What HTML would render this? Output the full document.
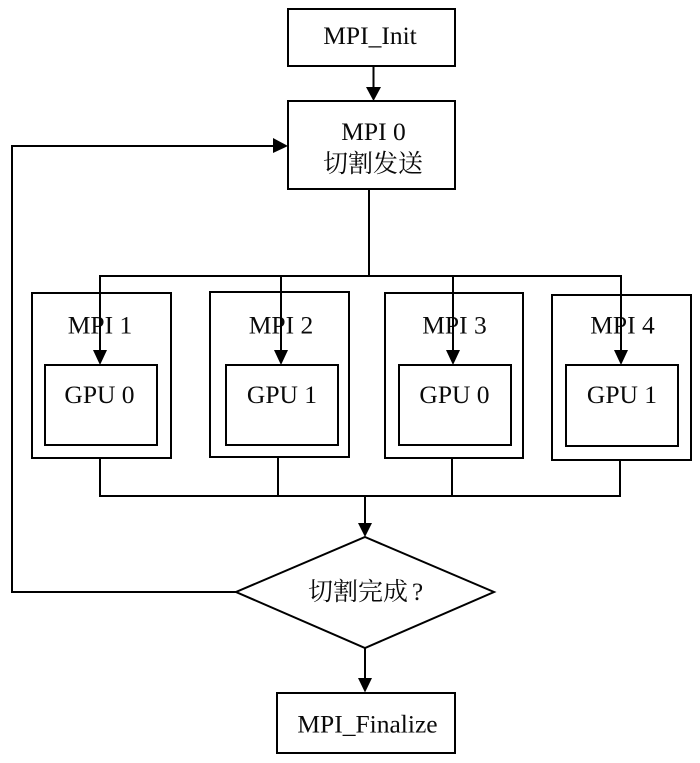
<!DOCTYPE html>
<html>
<head>
<meta charset="utf-8">
<style>
html,body{margin:0;padding:0;background:#fff;width:700px;height:763px;overflow:hidden}
svg{display:block}
text{font-family:"Liberation Serif","Noto Serif CJK SC",serif;font-size:25.5px;fill:#0a0a0a;text-anchor:middle}
text.c{font-size:25px}
rect,polygon.d{fill:none;stroke:#000;stroke-width:2}
line,polyline{stroke:#000;stroke-width:2;fill:none}
polygon.a{fill:#000;stroke:none}
</style>
</head>
<body>
<svg width="700" height="763" viewBox="0 0 700 763" xmlns="http://www.w3.org/2000/svg">
<rect x="288" y="9" width="167" height="57"/>
<text x="370" y="44">MPI_Init</text>
<line x1="373.5" y1="66" x2="373.5" y2="90"/>
<polygon class="a" points="366,87 381,87 373.5,101"/>
<rect x="288" y="101" width="167" height="88"/>
<text x="373.5" y="140">MPI 0</text>
<text class="c" x="373" y="172">切割发送</text>
<polyline points="236,592 12,592 12,146 275,146"/>
<polygon class="a" points="273,138 288,146 273,153"/>
<line x1="369" y1="189" x2="369" y2="276"/>
<line x1="99" y1="276" x2="622" y2="276"/>
<rect x="32" y="293" width="139" height="165"/>
<rect x="210" y="292" width="139" height="165"/>
<rect x="385" y="293" width="138" height="165"/>
<rect x="552" y="295" width="139" height="165"/>
<text x="100" y="333.5">MPI 1</text>
<text x="281" y="333.5">MPI 2</text>
<text x="454.5" y="333.5">MPI 3</text>
<text x="622.5" y="333.5">MPI 4</text>
<rect x="45" y="365" width="112" height="80"/>
<rect x="226" y="365" width="112" height="80"/>
<rect x="399" y="365" width="112" height="80"/>
<rect x="566" y="365" width="112" height="81"/>
<text x="99.5" y="403">GPU 0</text>
<text x="282" y="403">GPU 1</text>
<text x="454.5" y="403">GPU 0</text>
<text x="622" y="403">GPU 1</text>
<line x1="100" y1="276" x2="100" y2="352"/>
<line x1="281" y1="276" x2="281" y2="352"/>
<line x1="453" y1="276" x2="453" y2="352"/>
<line x1="621" y1="276" x2="621" y2="352"/>
<polygon class="a" points="93,350 107,350 100,365"/>
<polygon class="a" points="274,350 288,350 281,365"/>
<polygon class="a" points="446,350 460,350 453,365"/>
<polygon class="a" points="614,350 628,350 621,365"/>
<line x1="100" y1="458" x2="100" y2="496"/>
<line x1="278" y1="457" x2="278" y2="496"/>
<line x1="452" y1="458" x2="452" y2="496"/>
<line x1="620" y1="460" x2="620" y2="496"/>
<line x1="99" y1="496" x2="621" y2="496"/>
<line x1="365" y1="496" x2="365" y2="525"/>
<polygon class="a" points="358,523 372,523 365,537"/>
<polygon class="d" points="365,537 494,592 365,648 236,592"/>
<text class="c" x="308" y="600" style="text-anchor:start">切割完成<tspan dx="4" style="font-family:'Liberation Serif',serif">?</tspan></text>
<line x1="365" y1="648" x2="365" y2="680"/>
<polygon class="a" points="358,678 372,678 365,692.5"/>
<rect x="277" y="693" width="178" height="60"/>
<text x="367.5" y="732.5">MPI_Finalize</text>
</svg>
</body>
</html>
